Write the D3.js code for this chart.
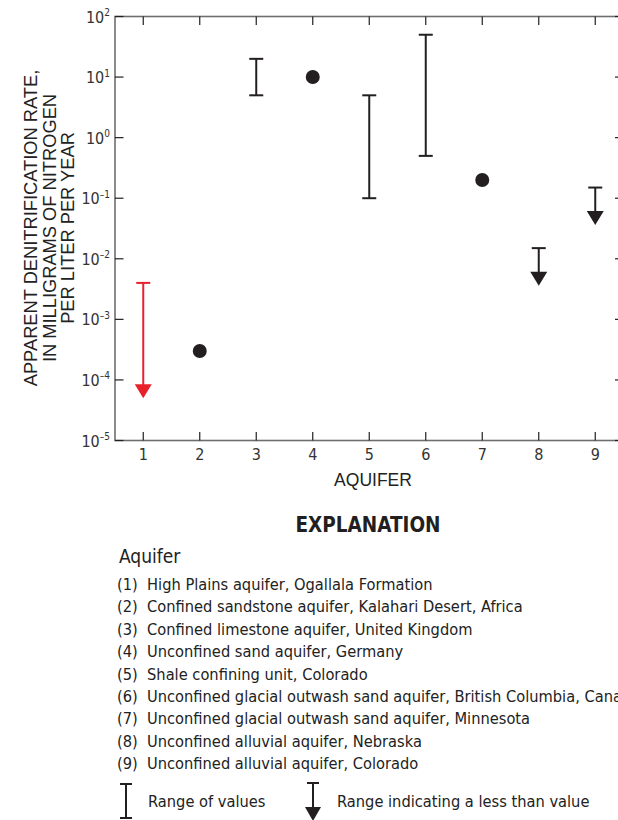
<!DOCTYPE html>
<html>
<head>
<meta charset="utf-8">
<script src="https://cdn.jsdelivr.net/npm/d3@7"></script>
<style>
  html, body { margin: 0; padding: 0; background: #fff; }
  svg { display: block; }
  .cond { font-family: "Liberation Sans Narrow", "DejaVu Sans Condensed", "Liberation Sans", sans-serif; font-stretch: condensed; }
  .reg { font-family: "Liberation Sans", Arial, sans-serif; }
</style>
</head>
<body>
<svg id="chart" width="618" height="820"></svg>
<script>
// Aquifer numbers on the x axis
const aquifers = [1, 2, 3, 4, 5, 6, 7, 8, 9];
// Kind of mark drawn for each aquifer
const markTypes = ["less", "point", "range", "point", "range", "range", "point", "less", "less"];
// Upper value of each aquifer (mg N per liter per year); single value for points
const highValues = [0.004, 0.0003, 20, 10, 5, 50, 0.2, 0.015, 0.15];
// Lower value of each aquifer (arrow tip for "less than" ranges)
const lowValues = [0.00005, 0.0003, 5, 10, 0.1, 0.5, 0.2, 0.0036, 0.036];
// Colour of each mark
const markColors = ["#e8202a", "#231f20", "#231f20", "#231f20", "#231f20", "#231f20", "#231f20", "#231f20", "#231f20"];
// Y tick exponents (powers of ten)
const yExponents = [2, 1, 0, -1, -2, -3, -4, -5];
// Explanation list
const aquiferNames = [
  "High Plains aquifer, Ogallala Formation",
  "Confined sandstone aquifer, Kalahari Desert, Africa",
  "Confined limestone aquifer, United Kingdom",
  "Unconfined sand aquifer, Germany",
  "Shale confining unit, Colorado",
  "Unconfined glacial outwash sand aquifer, British Columbia, Canada",
  "Unconfined glacial outwash sand aquifer, Minnesota",
  "Unconfined alluvial aquifer, Nebraska",
  "Unconfined alluvial aquifer, Colorado"
];
const yTitleLines = ["APPARENT DENITRIFICATION RATE,", "IN MILLIGRAMS OF NITROGEN", "PER LITER PER YEAR"];

const svg = d3.select("#chart");
const ink = "#231f20";
const axisGray = "#6d6e71";

const plot = { left: 115, right: 623.5, top: 16.5, bottom: 440.5 };
const x = d3.scaleLinear().domain([0.5, 9.5]).range([plot.left, plot.right]);
const y = d3.scaleLog().domain([1e-5, 1e2]).range([plot.bottom, plot.top]);
const yTicks = yExponents.map(e => Math.pow(10, e));

// Frame
svg.append("rect")
  .attr("x", plot.left).attr("y", plot.top)
  .attr("width", plot.right - plot.left).attr("height", plot.bottom - plot.top)
  .attr("fill", "none").attr("stroke", axisGray).attr("stroke-width", 1.6);

// Inward ticks on all four sides
const tickLen = 8.5;
const tg = svg.append("g").attr("stroke", ink).attr("stroke-width", 1.2);
yTicks.forEach(v => {
  tg.append("line").attr("x1", plot.left).attr("x2", plot.left + tickLen).attr("y1", y(v)).attr("y2", y(v));
  tg.append("line").attr("x1", plot.right).attr("x2", plot.right - tickLen).attr("y1", y(v)).attr("y2", y(v));
});
aquifers.forEach(a => {
  tg.append("line").attr("x1", x(a)).attr("x2", x(a)).attr("y1", plot.bottom).attr("y2", plot.bottom - tickLen);
  tg.append("line").attr("x1", x(a)).attr("x2", x(a)).attr("y1", plot.top).attr("y2", plot.top + tickLen);
});

// Y tick labels: 10 with superscript exponent
const yl = svg.append("g").attr("class", "cond").attr("fill", "#333");
yExponents.forEach((e, i) => {
  const t = yl.append("text")
    .attr("x", 110).attr("y", y(yTicks[i]) + 6)
    .attr("text-anchor", "end").attr("font-size", 16);
  t.append("tspan").text("10");
  t.append("tspan").attr("font-size", 10).attr("dy", -6.5)
    .text(e < 0 ? "\u2013" + Math.abs(e) : String(e));
});

// X tick labels
svg.append("g").attr("class", "cond").attr("fill", "#333")
  .selectAll("text").data(aquifers).join("text")
  .attr("x", d => x(d)).attr("y", 460)
  .attr("text-anchor", "middle").attr("font-size", 16)
  .text(d => d);

// Axis titles
svg.append("text").attr("class", "reg")
  .attr("x", 373).attr("y", 486).attr("text-anchor", "middle")
  .attr("font-size", 17.5).attr("fill", "#222").text("AQUIFER");

const yt = svg.append("text").attr("class", "reg")
  .attr("transform", "translate(37,228) rotate(-90)")
  .attr("text-anchor", "middle").attr("font-size", 18.3).attr("fill", "#222");
yTitleLines.forEach((l, i) => {
  yt.append("tspan").attr("x", 0).attr("dy", i === 0 ? 0 : 18.5).text(l);
});

// Data marks
const capHalf = 7, headHalf = 8.5, headLen = 14;
const marks = svg.append("g");
aquifers.forEach((a, i) => {
  const cx = x(a), col = markColors[i];
  const g = marks.append("g").attr("stroke", col).attr("fill", col);
  if (markTypes[i] === "point") {
    g.append("circle").attr("cx", cx).attr("cy", y(highValues[i])).attr("r", 7).attr("stroke", "none");
  } else if (markTypes[i] === "range") {
    const yh = y(highValues[i]), ylo = y(lowValues[i]);
    g.append("line").attr("x1", cx).attr("x2", cx).attr("y1", yh).attr("y2", ylo).attr("stroke-width", 2);
    g.append("line").attr("x1", cx - capHalf).attr("x2", cx + capHalf).attr("y1", yh).attr("y2", yh).attr("stroke-width", 2);
    g.append("line").attr("x1", cx - capHalf).attr("x2", cx + capHalf).attr("y1", ylo).attr("y2", ylo).attr("stroke-width", 2);
  } else {
    const yh = y(highValues[i]), tip = y(lowValues[i]);
    g.append("line").attr("x1", cx).attr("x2", cx).attr("y1", yh).attr("y2", tip - headLen + 1).attr("stroke-width", 2);
    g.append("line").attr("x1", cx - capHalf).attr("x2", cx + capHalf).attr("y1", yh).attr("y2", yh).attr("stroke-width", 2);
    g.append("path").attr("stroke", "none")
      .attr("d", `M${cx - headHalf},${tip - headLen}L${cx + headHalf},${tip - headLen}L${cx},${tip}Z`);
  }
});

// Explanation
svg.append("text").attr("class", "cond")
  .attr("x", 368).attr("y", 532).attr("text-anchor", "middle")
  .attr("font-size", 20.5).attr("font-weight", "bold").attr("fill", ink)
  .text("EXPLANATION");

svg.append("text").attr("class", "cond")
  .attr("x", 119).attr("y", 563).attr("font-size", 19).attr("fill", "#222")
  .text("Aquifer");

svg.append("g").attr("class", "cond").attr("fill", "#222")
  .selectAll("text").data(aquiferNames).join("text")
  .attr("x", 117).attr("y", (d, i) => 590 + i * 22.4)
  .attr("font-size", 16.3)
  .attr("xml:space", "preserve")
  .text((d, i) => `(${aquifers[i]})  ${d}`);

// Legend symbols
const lg = svg.append("g").attr("stroke", ink).attr("fill", ink).attr("stroke-width", 2);
lg.append("line").attr("x1", 126).attr("x2", 126).attr("y1", 784).attr("y2", 818);
lg.append("line").attr("x1", 120).attr("x2", 132).attr("y1", 784).attr("y2", 784);
lg.append("line").attr("x1", 120).attr("x2", 132).attr("y1", 818).attr("y2", 818);
lg.append("line").attr("x1", 313).attr("x2", 313).attr("y1", 783).attr("y2", 808);
lg.append("line").attr("x1", 307).attr("x2", 319).attr("y1", 783).attr("y2", 783);
lg.append("path").attr("stroke", "none").attr("d", "M305,807L321,807L313,821Z");

svg.append("text").attr("class", "cond").attr("x", 148).attr("y", 807)
  .attr("font-size", 16.3).attr("fill", "#222").text("Range of values");
svg.append("text").attr("class", "cond").attr("x", 337).attr("y", 807)
  .attr("font-size", 16.3).attr("fill", "#222").text("Range indicating a less than value");
</script>
</body>
</html>
